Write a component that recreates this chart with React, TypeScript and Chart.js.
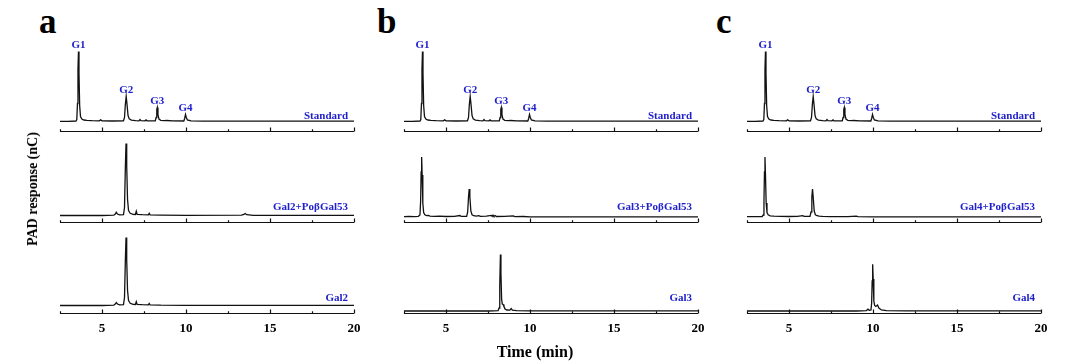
import React, { useEffect, useRef } from 'react';
import { Chart, registerables } from 'chart.js';

Chart.register(...registerables);

const FONT = "'Times New Roman', 'Liberation Serif', serif";
const BLUE = '#2121CC';
const INK = '#111111';

// ---- data ----
const timeTicks = [2.5, 5, 7.5, 10, 12.5, 15, 17.5, 20];
const timeTickLabels = ['', '5', '', '10', '', '15', '', '20'];
const peakNames = ['G1', 'G2', 'G3', 'G4'];
const peakTimes = [3.6, 6.44, 8.28, 9.98];
const panelLetters = ['a', 'b', 'c'];
const sampleNames = [
  ['Standard', 'Gal2+PoβGal53', 'Gal2'],
  ['Standard', 'Gal3+PoβGal53', 'Gal3'],
  ['Standard', 'Gal4+PoβGal53', 'Gal4'],
];

// time (min), PAD response (relative nC)
const standardTrace: [number, number][] = [
  [2.5, 0.2], [3.0, 0.2], [3.45, 0.5], [3.5, 2], [3.54, 18], [3.57, 52], [3.6, 70], [3.63, 48],
  [3.67, 16], [3.72, 5], [3.8, 2.4], [3.92, 1.5], [4.1, 1.1], [4.4, 0.8], [4.84, 0.7], [4.92, 1.6],
  [5.0, 0.7], [5.6, 0.5], [6.28, 0.7], [6.34, 4], [6.39, 17], [6.44, 25], [6.49, 17], [6.55, 6],
  [6.62, 2.6], [6.75, 1.4], [7.0, 0.8], [7.2, 0.7], [7.26, 2], [7.32, 0.8], [7.56, 0.7], [7.62, 1.6],
  [7.68, 0.7], [8.17, 0.6], [8.22, 4], [8.26, 12], [8.29, 14], [8.33, 7], [8.39, 2.4], [8.5, 1.2],
  [8.7, 0.8], [8.85, 1], [9.2, 0.6], [9.87, 0.5], [9.92, 3], [9.97, 7], [10.02, 4], [10.08, 1.5],
  [10.3, 0.7], [11.0, 0.4], [13.0, 0.3], [20.0, 0.3],
];
const gal2MixTrace: [number, number][] = [
  [2.5, 0], [5.0, 0], [5.7, 0.3], [5.79, 1.5], [5.85, 3.2], [5.92, 1.5], [6.05, 0.7], [6.28, 0.9],
  [6.34, 8], [6.39, 48], [6.43, 72], [6.47, 50], [6.52, 16], [6.58, 5], [6.68, 2.2], [6.85, 1.2],
  [6.99, 1], [7.04, 4.2], [7.09, 1.2], [7.4, 0.8], [7.76, 0.7], [7.81, 2.2], [7.86, 0.7], [8.5, 0.4],
  [10.0, 0.2], [13.3, 0.3], [13.45, 1], [13.52, 2], [13.62, 0.8], [14.0, 0.2], [20.0, 0.2],
];
const gal2Trace: [number, number][] = [
  [2.5, 0], [5.0, 0], [5.7, 0.3], [5.79, 1.5], [5.85, 3], [5.92, 1.5], [6.05, 0.7], [6.28, 0.9],
  [6.34, 8], [6.39, 45], [6.43, 68], [6.47, 46], [6.52, 15], [6.58, 5], [6.68, 2.2], [6.85, 1.2],
  [6.99, 1], [7.04, 3.8], [7.09, 1.2], [7.4, 0.8], [7.76, 0.7], [7.81, 2], [7.86, 0.7], [8.5, 0.3],
  [10.0, 0.1], [20.0, 0.1],
];
const gal3MixTrace: [number, number][] = [
  [2.5, 0.3], [2.8, 0.6], [3.1, 0.4], [3.35, 0.7], [3.45, 2], [3.49, 16], [3.52, 45], [3.55, 60],
  [3.58, 42], [3.62, 14], [3.67, 4.5], [3.74, 2.2], [3.85, 1.3], [3.95, 1.5], [4.05, 0.9], [4.3, 0.6],
  [4.6, 0.8], [5.0, 0.5], [5.5, 0.7], [5.83, 1.5], [5.9, 0.6], [6.23, 0.7], [6.29, 5], [6.34, 20],
  [6.38, 28], [6.42, 20], [6.48, 6], [6.55, 2.2], [6.65, 1.3], [6.8, 0.9], [6.95, 1.4], [7.05, 0.6],
  [7.4, 0.8], [7.7, 1.6], [7.75, 0.6], [7.8, 1.8], [7.85, 0.7], [7.92, 1.5], [8.0, 0.5], [8.5, 0.6],
  [9.0, 1.2], [9.1, 0.4], [9.6, 0.5], [10.0, 0.1], [20.0, 0.1],
];
const gal3Trace: [number, number][] = [
  [2.5, 0], [7.5, 0], [8.1, 0.3], [8.16, 3], [8.2, 26], [8.24, 56.6], [8.27, 38], [8.31, 12],
  [8.35, 7], [8.4, 6.5], [8.45, 4.5], [8.52, 2], [8.62, 1], [8.8, 0.8], [8.88, 2.5], [8.95, 0.8],
  [9.2, 0.4], [10.0, 0.2], [20.0, 0.2],
];
const gal4MixTrace: [number, number][] = [
  [2.5, 0.3], [3.0, 0.4], [3.4, 0.5], [3.47, 2], [3.51, 16], [3.54, 45], [3.57, 60], [3.6, 42],
  [3.64, 14], [3.69, 4.5], [3.76, 2.2], [3.88, 1.2], [4.1, 0.8], [4.5, 0.6], [5.0, 0.5], [5.5, 0.6],
  [5.82, 1.3], [5.9, 0.6], [6.25, 0.7], [6.31, 5], [6.36, 20], [6.4, 28], [6.44, 20], [6.5, 6],
  [6.57, 2.2], [6.67, 1.3], [6.8, 0.9], [7.0, 0.7], [7.5, 0.4], [8.5, 0.3], [9.0, 0.8], [9.1, 0.3],
  [10.0, 0.2], [20.0, 0.2],
];
const gal4Trace: [number, number][] = [
  [2.5, 0], [9.0, 0], [9.6, 0.3], [9.7, 1.8], [9.78, 0.8], [9.88, 1], [9.92, 8], [9.95, 30],
  [9.98, 46.7], [10.01, 32], [10.05, 10], [10.1, 5.5], [10.17, 4.5], [10.27, 6], [10.35, 3], [10.5, 1],
  [10.8, 0.4], [12.0, 0.2], [20.0, 0.2],
];

const panelTraces = [
  [standardTrace, gal2MixTrace, gal2Trace],
  [standardTrace, gal3MixTrace, gal3Trace],
  [standardTrace, gal4MixTrace, gal4Trace],
];

// ---- layout ----
const PANEL_LEFT = [60, 404, 747];
const AXIS_LEN = 294;
const ROW_AXIS_Y = [131, 222, 313];
const BASE_OFFSET = [
  [9.5, 6.5, 7.5],
  [9.5, 5, 2],
  [9.5, 5, 2],
];
const AREA_H = 100;
const TICK_PAD = 9;
const LABEL_H = 13 + 2 * TICK_PAD;
const PAD_L = 20;
const PAD_R = 22;

const axisTickPlugin = {
  id: 'axisTicks',
  afterDraw(chart: any) {
    const { ctx, chartArea } = chart;
    const xs = chart.scales.x;
    const y = Math.round(chartArea.bottom) + 0.5;
    ctx.save();
    ctx.strokeStyle = INK;
    ctx.lineWidth = 1.2;
    ctx.beginPath();
    ctx.moveTo(xs.getPixelForValue(timeTicks[0]), y);
    ctx.lineTo(xs.getPixelForValue(timeTicks[timeTicks.length - 1]), y);
    timeTicks.forEach((v, i) => {
      const px = Math.round(xs.getPixelForValue(v)) + 0.5;
      const len = timeTickLabels[i] !== '' ? 4 : 2.2;
      ctx.moveTo(px, y);
      ctx.lineTo(px, y - len);
    });
    ctx.stroke();
    ctx.restore();
  },
};

const traceLabelPlugin = {
  id: 'traceLabels',
  afterDatasetsDraw(chart: any, _args: any, opts: any) {
    const { ctx, chartArea } = chart;
    const xs = chart.scales.x;
    const ys = chart.scales.y;
    const data = chart.data.datasets[0].data as { x: number; y: number }[];
    ctx.save();
    ctx.fillStyle = BLUE;
    ctx.font = `bold 11px ${FONT}`;
    ctx.textBaseline = 'alphabetic';
    if (opts.peaks) {
      ctx.textAlign = 'center';
      peakTimes.forEach((t, i) => {
        let best = { x: t, y: -Infinity };
        data.forEach((p) => {
          if (Math.abs(p.x - t) < 0.12 && p.y > best.y) best = p;
        });
        ctx.fillText(peakNames[i], xs.getPixelForValue(best.x), ys.getPixelForValue(best.y) - 4);
      });
    }
    if (opts.name) {
      ctx.textAlign = 'right';
      ctx.fillText(opts.name, chartArea.right - 6, chartArea.bottom - 12.5);
    }
    ctx.restore();
  },
};

type TraceProps = {
  trace: [number, number][];
  left: number;
  axisY: number;
  offset: number;
  name: string;
  peaks: boolean;
  showLabels: boolean;
};

function TraceChart({ trace, left, axisY, offset, name, peaks, showLabels }: TraceProps) {
  const ref = useRef<HTMLCanvasElement | null>(null);
  useEffect(() => {
    if (!ref.current) return;
    const chart = new Chart(ref.current, {
      type: 'line',
      data: {
        datasets: [
          {
            data: trace.map(([x, y]) => ({ x, y })),
            borderColor: INK,
            borderWidth: 1.3,
            pointRadius: 0,
            tension: 0,
            fill: false,
          },
        ],
      },
      options: {
        responsive: false,
        animation: false,
        events: [],
        layout: { padding: { left: PAD_L, right: PAD_R, top: 0, bottom: 0 } },
        plugins: {
          legend: { display: false },
          tooltip: { enabled: false },
          traceLabels: { name, peaks },
        } as any,
        scales: {
          x: {
            type: 'linear',
            min: timeTicks[0],
            max: timeTicks[timeTicks.length - 1],
            afterBuildTicks: (axis: any) => {
              axis.ticks = timeTicks.map((v) => ({ value: v }));
            },
            grid: { display: false, drawTicks: false },
            border: { display: false },
            ticks: {
              autoSkip: false,
              maxRotation: 0,
              padding: TICK_PAD,
              color: showLabels ? '#000' : 'rgba(0,0,0,0)',
              font: { family: FONT, size: 13, weight: 'bold', lineHeight: 1 },
              callback: (_v: any, i: number) => timeTickLabels[i],
            },
          },
          y: { display: false, min: -offset, max: AREA_H - offset },
        },
      },
      plugins: [axisTickPlugin, traceLabelPlugin],
    } as any);
    return () => chart.destroy();
  }, [trace, left, axisY, offset, name, peaks, showLabels]);
  return (
    <canvas
      ref={ref}
      width={AXIS_LEN + PAD_L + PAD_R}
      height={AREA_H + LABEL_H}
      style={{ position: 'absolute', left: left - PAD_L, top: axisY - AREA_H }}
    />
  );
}

export default function App() {
  return (
    <div
      style={{
        position: 'absolute',
        left: 0,
        top: 0,
        width: 1066,
        height: 363,
        background: '#fff',
        overflow: 'hidden',
        fontFamily: FONT,
      }}
    >
      {panelLetters.map((letter, p) => (
        <div
          key={letter}
          style={{
            position: 'absolute',
            left: [39, 377, 716][p],
            top: 4,
            fontSize: 35,
            fontWeight: 'bold',
            lineHeight: 1,
            color: '#000',
          }}
        >
          {letter}
        </div>
      ))}
      {panelTraces.map((rows, p) =>
        rows.map((trace, r) => (
          <TraceChart
            key={`${p}-${r}`}
            trace={trace}
            left={PANEL_LEFT[p]}
            axisY={ROW_AXIS_Y[r]}
            offset={BASE_OFFSET[p][r]}
            name={sampleNames[p][r]}
            peaks={r === 0}
            showLabels={r === 2}
          />
        ))
      )}
      <div
        style={{
          position: 'absolute',
          left: 33,
          top: 188.5,
          transform: 'translate(-50%, -50%) rotate(-90deg)',
          fontSize: 14,
          fontWeight: 'bold',
          lineHeight: 1,
          whiteSpace: 'nowrap',
          color: '#000',
        }}
      >
        PAD response (nC)
      </div>
      <div
        style={{
          position: 'absolute',
          left: 535,
          top: 343.7,
          transform: 'translateX(-50%)',
          fontSize: 16,
          fontWeight: 'bold',
          lineHeight: 1,
          whiteSpace: 'nowrap',
          color: '#000',
        }}
      >
        Time (min)
      </div>
    </div>
  );
}
